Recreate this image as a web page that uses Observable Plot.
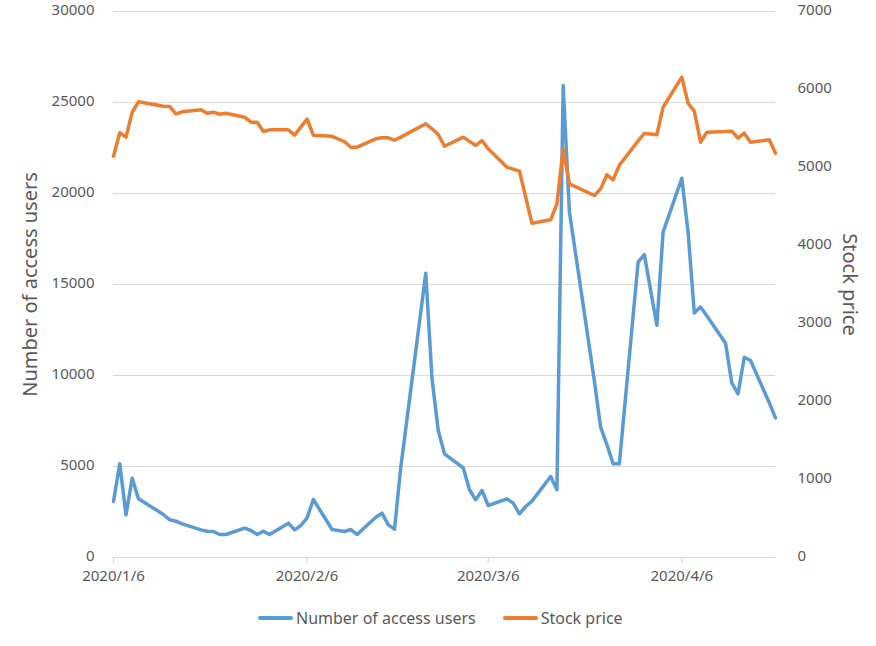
<!DOCTYPE html>
<html>
<head>
<meta charset="utf-8">
<script src="https://cdn.jsdelivr.net/npm/d3@7"></script>
<script src="https://cdn.jsdelivr.net/npm/@observablehq/plot@0.6"></script>
<style>
  html, body { margin: 0; padding: 0; background: #fff; }
  #wrap { position: relative; width: 876px; height: 646px; font-family: "Noto Sans", sans-serif; }
  #wrap svg { position: absolute; left: 0; top: 0; }
  #legend { position: absolute; left: 258px; top: 607px; display: flex; align-items: center; font-size: 16px; color: #595959; line-height: 22px; }
  .sw { display: inline-block; width: 35px; height: 4px; border-radius: 2px; margin-right: 3px; }
  .item { display: flex; align-items: center; }
</style>
</head>
<body>
<div id="wrap"></div>
<script>
const dates = [
  "2020-01-06","2020-01-07","2020-01-08","2020-01-09","2020-01-10","2020-01-14","2020-01-15","2020-01-16","2020-01-17",
  "2020-01-20","2020-01-21","2020-01-22","2020-01-23","2020-01-24","2020-01-27","2020-01-28","2020-01-29","2020-01-30","2020-01-31",
  "2020-02-03","2020-02-04","2020-02-05","2020-02-06","2020-02-07","2020-02-10","2020-02-12","2020-02-13","2020-02-14",
  "2020-02-17","2020-02-18","2020-02-19","2020-02-20","2020-02-21","2020-02-25","2020-02-26","2020-02-27","2020-02-28",
  "2020-03-02","2020-03-03","2020-03-04","2020-03-05","2020-03-06","2020-03-09","2020-03-10","2020-03-11","2020-03-12","2020-03-13",
  "2020-03-16","2020-03-17","2020-03-18","2020-03-19","2020-03-23","2020-03-24","2020-03-25","2020-03-26","2020-03-27",
  "2020-03-30","2020-03-31","2020-04-01","2020-04-02","2020-04-03","2020-04-06","2020-04-07","2020-04-08","2020-04-09","2020-04-10",
  "2020-04-13","2020-04-14","2020-04-15","2020-04-16","2020-04-17","2020-04-20","2020-04-21"
];
const accessUsers = [
  3077,5148,2344,4359,3223,2363,2070,1996,1850,
  1520,1446,1428,1264,1264,1612,1484,1264,1446,1264,
  1886,1520,1758,2180,3187,1538,1428,1538,1264,
  2216,2436,1790,1557,4963,15620,9818,6978,5696,
  4927,3720,3169,3681,2857,3223,2985,2399,2802,3095,
  4451,3720,25930,19000,9700,7160,6200,5150,5150,
  16230,16640,14700,12760,17880,20840,17880,13430,13760,13280,
  11777,9598,8993,11007,10824,8500,7674
];
const stockPrice = [
  5145,5445,5389,5709,5842,5786,5782,5688,5714,
  5740,5696,5709,5683,5696,5645,5581,5581,5462,5483,
  5483,5415,5520,5620,5415,5400,5330,5260,5260,
  5368,5381,5381,5350,5390,5560,5496,5423,5273,
  5389,5335,5282,5346,5240,5004,4980,4953,4620,4286,
  4329,4534,5240,4791,4641,4726,4906,4842,5030,
  5340,5436,5430,5420,5773,6158,5824,5722,5324,5453,
  5460,5466,5376,5440,5324,5355,5183
];
const xTickDates = ["2020-01-06","2020-02-06","2020-03-06","2020-04-06"];
const leftTicks = [0,5000,10000,15000,20000,25000,30000];
const rightTicks = [0,1000,2000,3000,4000,5000,6000,7000];
const seriesNames = ["Number of access users","Stock price"];
const axisTitles = ["Number of access users","Stock price"];
const colors = ["#5B9BD5","#ED7D31"];

const parse = s => new Date(s + "T00:00:00Z");
const rows = dates.map((d, i) => ({date: parse(d), users: accessUsers[i], price: stockPrice[i]}));
const fmt = d => `${d.getUTCFullYear()}/${d.getUTCMonth() + 1}/${d.getUTCDate()}`;

const W = 876, H = 600;
const xDomain = [parse(dates[0]), parse(dates[dates.length - 1])];
const common = {
  width: W, height: H,
  marginLeft: 113, marginRight: 101, marginTop: 11, marginBottom: 43
};

const p1 = Plot.plot({
  ...common,
  style: {fontFamily: "Noto Sans", fontSize: "15px", color: "#595959", background: "transparent"},
  x: {type: "utc", domain: xDomain},
  y: {domain: [0, 30000]},
  marks: [
    Plot.gridY(leftTicks, {stroke: "#d9d9d9", strokeOpacity: 1, strokeWidth: 1}),
    Plot.axisY(leftTicks, {anchor: "left", tickSize: 0, tickPadding: 19, label: null, tickFormat: d => String(d), dy: -1}),
    Plot.axisX(xTickDates.map(parse), {anchor: "bottom", tickSize: 6, tickPadding: 7, stroke: "#d9d9d9", strokeOpacity: 1, tickFormat: fmt, label: null}),
    Plot.line(rows, {x: "date", y: "users", stroke: colors[0], strokeWidth: 3.5}),
    Plot.text([axisTitles[0]], {frameAnchor: "left", textAnchor: "middle", rotate: -90, dx: -83, fontSize: 20, fill: "#595959", text: d => d})
  ]
});

const p2 = Plot.plot({
  ...common,
  style: {fontFamily: "Noto Sans", fontSize: "15px", color: "#595959", background: "transparent"},
  x: {type: "utc", domain: xDomain, axis: null},
  y: {domain: [0, 7000]},
  marks: [
    Plot.axisY(rightTicks, {anchor: "right", tickSize: 0, tickPadding: 22, label: null, tickFormat: d => String(d), dy: -1}),
    Plot.line(rows, {x: "date", y: "price", stroke: colors[1], strokeWidth: 3.5}),
    Plot.text([axisTitles[1]], {frameAnchor: "right", textAnchor: "middle", rotate: 90, dx: 74, fontSize: 20, fill: "#595959", text: d => d})
  ]
});

const wrap = document.getElementById("wrap");
wrap.appendChild(p1);
wrap.appendChild(p2);

const legend = document.createElement("div");
legend.id = "legend";
seriesNames.forEach((name, i) => {
  const item = document.createElement("div");
  item.className = "item";
  if (i > 0) item.style.marginLeft = "27px";
  const sw = document.createElement("span");
  sw.className = "sw";
  sw.style.background = colors[i];
  const t = document.createElement("span");
  t.textContent = name;
  item.appendChild(sw);
  item.appendChild(t);
  legend.appendChild(item);
});
wrap.appendChild(legend);
</script>
</body>
</html>
